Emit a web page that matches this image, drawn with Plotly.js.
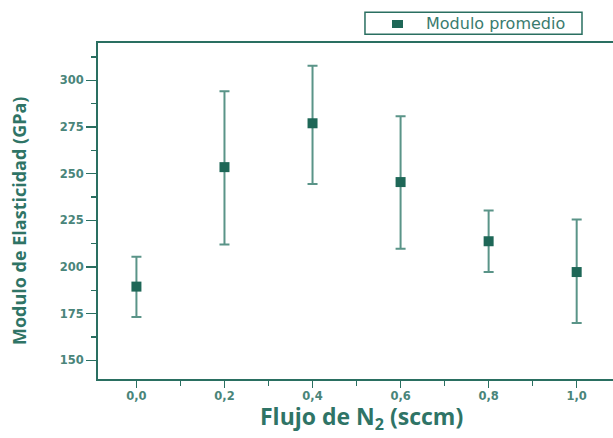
<!DOCTYPE html>
<html>
<head>
<meta charset="utf-8">
<script src="https://cdn.plot.ly/plotly-3.0.1.min.js"></script>
<style>html,body{margin:0;padding:0;background:#fff;}#chart{width:613px;height:438px;}</style>
</head>
<body>
<div id="chart"></div>
<script>
const flujo = [0.0, 0.2, 0.4, 0.6, 0.8, 1.0];
const modulo = [189.5, 253.5, 277.0, 245.5, 213.8, 197.3];
const errPlus = [16.0, 40.6, 30.8, 35.3, 16.5, 28.2];
const errMinus = [16.3, 41.5, 32.5, 35.7, 16.5, 27.3];
const xTickVals = [0.0, 0.2, 0.4, 0.6, 0.8, 1.0];
const xTickText = ['0,0', '0,2', '0,4', '0,6', '0,8', '1,0'];
const yTickVals = [150, 175, 200, 225, 250, 275, 300];
const seriesName = 'Modulo promedio';
const xTitle = 'Flujo de N<sub>2</sub> (sccm)';
const yTitle = 'Modulo de Elasticidad (GPa)';

const teal = '#2a6f61';
const markerColor = '#1e6757';
const tickFont = {family: 'DejaVu Sans, sans-serif', size: 11.5, color: '#4a857a', weight: 'bold'};
const titleFont = {family: 'Open Sans, sans-serif', color: '#2f7466', weight: 'bold'};

const trace = {
  x: flujo, y: modulo, type: 'scatter', mode: 'markers', name: seriesName,
  showlegend: false,
  marker: {symbol: 'square', size: 10, color: markerColor},
  error_y: {type: 'data', symmetric: false, array: errPlus, arrayminus: errMinus,
            color: '#5a9488', thickness: 2, width: 5}
};

const layout = {
  width: 613, height: 438,
  margin: {l: 98, r: 0, t: 43, b: 59, autoexpand: false},
  paper_bgcolor: '#fff', plot_bgcolor: '#fff',
  showlegend: false,
  xaxis: {
    range: [-0.0873, 1.0825], showgrid: false, zeroline: false,
    showline: true, linecolor: teal, linewidth: 2, mirror: true,
    ticks: 'outside', ticklen: 7, tickwidth: 1.5, tickcolor: teal,
    ticklabelstandoff: -2,
    tickvals: xTickVals, ticktext: xTickText, tickfont: tickFont,
    minor: {dtick: 0.2, tick0: 0.1, ticks: 'outside', ticklen: 5, tickwidth: 1.5, tickcolor: teal}
  },
  yaxis: {
    range: [140, 320], showgrid: false, zeroline: false,
    showline: true, linecolor: teal, linewidth: 2, mirror: false,
    ticks: 'outside', ticklen: 10, tickwidth: 1.5, tickcolor: teal,
    tickvals: yTickVals, tickfont: tickFont,
    minor: {dtick: 25, tick0: 162.5, ticks: 'outside', ticklen: 5, tickwidth: 1.5, tickcolor: teal}
  },
  shapes: [
    {type: 'rect', xref: 'paper', yref: 'paper', x0: 0.5184, x1: 0.9398, y0: 1.0259, y1: 1.0914,
     line: {color: teal, width: 1.5}, fillcolor: '#fff', layer: 'above'},
    {type: 'rect', xref: 'paper', yref: 'paper', x0: 0.5709, x1: 0.5922, y0: 1.0446, y1: 1.0685,
     line: {width: 0}, fillcolor: markerColor, layer: 'above'}
  ],
  annotations: [
    {text: seriesName, xref: 'paper', yref: 'paper', x: 0.633, y: 1.0586,
     xanchor: 'left', yanchor: 'middle', showarrow: false,
     font: {family: 'DejaVu Sans, sans-serif', size: 16, color: '#3a7b6e'}},
    {text: xTitle, xref: 'paper', yref: 'paper', x: 0.5126, y: -0.1741,
     xanchor: 'center', yanchor: 'bottom', showarrow: false,
     font: Object.assign({size: 23}, titleFont)},
    {text: yTitle, xref: 'paper', yref: 'paper', x: -0.1534, y: 0.473, textangle: -90,
     xanchor: 'center', yanchor: 'middle', showarrow: false,
     font: Object.assign({size: 18}, titleFont)}
  ]
};

Plotly.newPlot('chart', [trace], layout, {displayModeBar: false, staticPlot: true});
</script>
</body>
</html>
